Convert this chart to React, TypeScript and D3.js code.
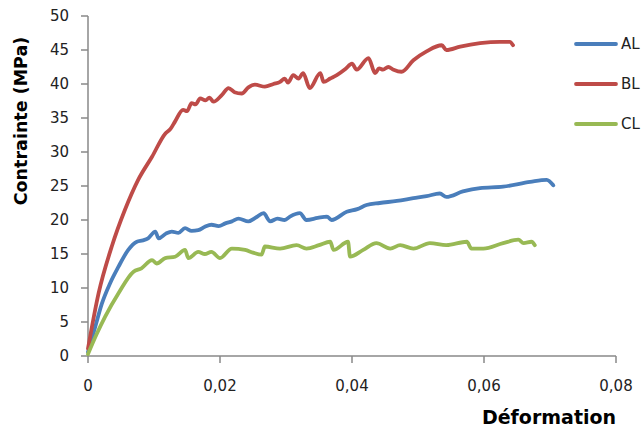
import React from "react";
import * as d3 from "d3";

const seriesNames = ["AL", "BL", "CL"];
const seriesColors = ["#4A7EBB", "#BE4B48", "#98B954"];

const alPoints: [number, number][] = [
  [0, 0.6], [0.0011, 4.3], [0.0021, 7.7], [0.0033, 10.6], [0.0046, 13.1], [0.0061, 15.6], [0.0074, 16.8], [0.0083, 17.0],
  [0.0091, 17.3], [0.0102, 18.3], [0.0107, 17.3], [0.0118, 18.0], [0.0127, 18.3], [0.0137, 18.1],
  [0.0147, 18.8], [0.0157, 18.4], [0.0167, 18.5], [0.0177, 19.0], [0.0187, 19.3], [0.0198, 19.1],
  [0.0208, 19.5], [0.0218, 19.8], [0.0228, 20.2], [0.0243, 19.8], [0.0255, 20.4], [0.0266, 21.0],
  [0.0276, 19.8], [0.0287, 20.2], [0.0298, 20.0], [0.0306, 20.5], [0.0321, 21.0], [0.0331, 20.0],
  [0.0348, 20.3], [0.0362, 20.5], [0.0369, 20.0], [0.0392, 21.2], [0.0408, 21.6], [0.0422, 22.2],
  [0.0442, 22.5], [0.0468, 22.8], [0.0493, 23.2], [0.0513, 23.5], [0.0533, 23.9], [0.0543, 23.4],
  [0.0568, 24.2], [0.0594, 24.7], [0.0629, 24.9], [0.067, 25.6], [0.0695, 25.9], [0.0705, 25.1]
];

const blPoints: [number, number][] = [
  [0, 1.1], [0.0016, 9.2], [0.0036, 16.1], [0.0056, 21.5], [0.0076, 25.9], [0.0097, 29.3],
  [0.0117, 32.7], [0.0125, 33.4], [0.0132, 34.5], [0.0144, 36.2], [0.0150, 36.0], [0.0157, 37.2],
  [0.0163, 37.0], [0.017, 37.9], [0.0178, 37.6], [0.0184, 38.0], [0.019, 37.4], [0.0203, 38.4],
  [0.0213, 39.4], [0.0222, 38.8], [0.0233, 38.6], [0.0243, 39.5], [0.0253, 39.9], [0.0268, 39.6],
  [0.0281, 40.0], [0.0291, 40.3], [0.0298, 40.8], [0.0303, 40.2], [0.0311, 41.3], [0.0319, 40.8],
  [0.0326, 41.6], [0.0336, 39.4], [0.0352, 41.6], [0.0357, 40.3], [0.0367, 40.8], [0.0377, 41.3],
  [0.0390, 42.2], [0.04, 43.0], [0.0407, 42.1], [0.0425, 43.8], [0.0435, 41.6], [0.0441, 42.3],
  [0.0447, 42.1], [0.0455, 42.5], [0.0463, 42.1], [0.0475, 41.8], [0.0493, 43.5], [0.0513, 44.8],
  [0.0536, 45.7], [0.0543, 45.0], [0.0564, 45.5], [0.0594, 46.0], [0.0624, 46.2], [0.0639, 46.2],
  [0.0644, 45.7]
];

const clPoints: [number, number][] = [
  [0, 0.3], [0.0013, 3.2], [0.0026, 5.8], [0.0046, 9.2], [0.0069, 12.4], [0.0081, 12.9], [0.0097, 14.1],
  [0.0104, 13.6], [0.0117, 14.4], [0.0132, 14.6], [0.0147, 15.6], [0.0152, 14.4], [0.0167, 15.3],
  [0.0177, 15.0], [0.0187, 15.3], [0.02, 14.4], [0.0218, 15.8], [0.0238, 15.6], [0.025, 15.2],
  [0.0263, 14.9], [0.0268, 16.1], [0.0291, 15.8], [0.0316, 16.3], [0.0331, 15.8], [0.035, 16.3],
  [0.0367, 16.8], [0.0372, 15.6], [0.0394, 16.8], [0.0397, 14.6], [0.0417, 15.6], [0.0437, 16.6],
  [0.0458, 15.8], [0.0473, 16.3], [0.0493, 15.8], [0.0518, 16.6], [0.0543, 16.3], [0.0574, 16.8],
  [0.0581, 15.8], [0.0599, 15.8], [0.0629, 16.6], [0.0652, 17.1], [0.066, 16.6], [0.0672, 16.8],
  [0.0677, 16.3]
];

const xTicks = [0, 0.02, 0.04, 0.06, 0.08];
const yTicks = [0, 5, 10, 15, 20, 25, 30, 35, 40, 45, 50];

const xLabel = "Déformation";
const yLabel = "Contrainte (MPa)";

export default function App() {
  const W = 644;
  const H = 430;
  const x = d3.scaleLinear().domain([0, 0.08]).range([88, 616]);
  const y = d3.scaleLinear().domain([0, 50]).range([356, 16]);
  const line = d3
    .line<[number, number]>()
    .x((d) => x(d[0]))
    .y((d) => y(d[1]))
    .curve(d3.curveMonotoneX);
  const allSeries = [alPoints, blPoints, clPoints];
  const axisColor = "#888888";
  const fmt = (v: number) => (v === 0 ? "0" : d3.format(".2f")(v).replace(".", ","));
  const font = "'DejaVu Sans', sans-serif";

  return (
    <svg
      width={W}
      height={H}
      style={{ position: "absolute", left: 0, top: 0, background: "#fff" }}
    >
      <rect x={0} y={0} width={W} height={H} fill="#fff" />
      <line x1={x(0)} x2={x(0)} y1={y(50)} y2={y(0)} stroke={axisColor} strokeWidth={1.5} />
      <line x1={x(0)} x2={x(0.08)} y1={y(0)} y2={y(0)} stroke={axisColor} strokeWidth={1.5} />
      {yTicks.map((t) => (
        <g key={"y" + t}>
          <line x1={x(0) - 7} x2={x(0)} y1={y(t)} y2={y(t)} stroke={axisColor} strokeWidth={1.5} />
          <text
            x={69}
            y={y(t)}
            dy="0.35em"
            textAnchor="end"
            fontFamily={font}
            fontSize={15}
            fill="#222"
          >
            {t}
          </text>
        </g>
      ))}
      {xTicks.map((t) => (
        <g key={"x" + t}>
          <line x1={x(t)} x2={x(t)} y1={y(0)} y2={y(0) + 7} stroke={axisColor} strokeWidth={1.5} />
          <text
            x={x(t)}
            y={391}
            textAnchor="middle"
            fontFamily={font}
            fontSize={15}
            fill="#222"
          >
            {fmt(t)}
          </text>
        </g>
      ))}
      {allSeries.map((pts, i) => (
        <path
          key={seriesNames[i]}
          d={line(pts) || ""}
          fill="none"
          stroke={seriesColors[i]}
          strokeWidth={3.8}
          strokeLinejoin="round"
          strokeLinecap="round"
        />
      ))}
      {seriesNames.map((n, i) => {
        const ly = 44 + i * 40;
        return (
          <g key={"lg" + n}>
            <line x1={576} x2={616} y1={ly} y2={ly} stroke={seriesColors[i]} strokeWidth={3.8} strokeLinecap="round" />
            <text x={621} y={ly} dy="0.35em" fontFamily={font} fontSize={15} fill="#222">
              {n}
            </text>
          </g>
        );
      })}
      <text
        x={549}
        y={424}
        textAnchor="middle"
        fontFamily={font}
        fontWeight="bold"
        fontSize={19}
        fill="#000"
      >
        {xLabel}
      </text>
      <text
        transform={`translate(27,${121}) rotate(-90)`}
        textAnchor="middle"
        fontFamily={font}
        fontWeight="bold"
        fontSize={17.5}
        fill="#000"
      >
        {yLabel}
      </text>
    </svg>
  );
}
